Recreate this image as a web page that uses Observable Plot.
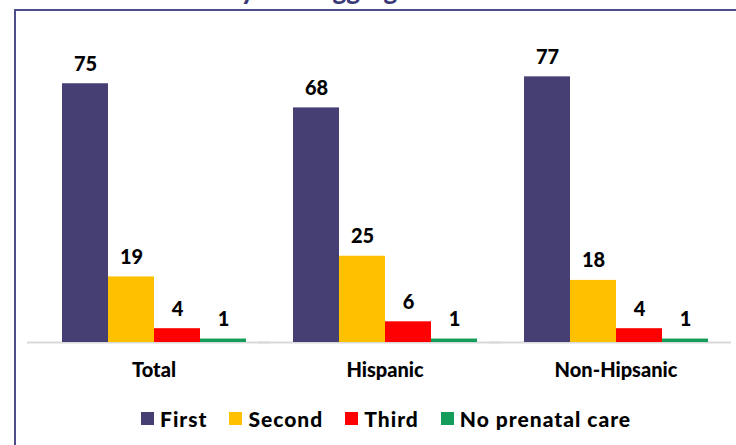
<!DOCTYPE html>
<html>
<head>
<meta charset="utf-8">
<script src="https://cdn.jsdelivr.net/npm/d3@7"></script>
<script src="https://cdn.jsdelivr.net/npm/@observablehq/plot@0.6"></script>
<style>
  html, body { margin: 0; padding: 0; background: #fff; }
  #wrap { position: relative; width: 736px; height: 445px; overflow: hidden; background: #fff; }
  #title { position: absolute; top: -23px; left: 46px; white-space: nowrap; font: 900 26px Lato, sans-serif; line-height: 26px; color: #3b3a78; }
  #frame { position: absolute; left: 14px; top: 9px; width: 800px; height: 500px; border-left: 2px solid #4f4d8c; border-top: 2px solid #4f4d8c; }
  #chart { position: absolute; left: 0; top: 0; }
  #legend { position: absolute; left: 141px; top: 406px; }
  .lg-swatches { font-family: Lato, sans-serif !important; font-size: 21px !important; font-weight: 900 !important; letter-spacing: 1px; color: #000 !important; display: flex; align-items: center; min-height: 23px; }
  .lg-swatch { margin-right: 22px !important; display: inline-flex; align-items: center; }
  .lg-swatch svg { margin-right: 6px !important; }
</style>
</head>
<body>
<div id="wrap">
  <div id="title">Trimester of Entry – Disaggregated</div>
  <div id="frame"></div>
  <div id="chart"></div>
  <div id="legend"></div>
</div>
<script>
const groups = ["Total", "Hispanic", "Non-Hipsanic"];
const trimesters = ["First", "Second", "Third", "No prenatal care"];
const firstValues = [75, 68, 77];
const secondValues = [19, 25, 18];
const thirdValues = [4, 6, 4];
const noCareValues = [1, 1, 1];
const colors = ["#453f74", "#ffc000", "#ff0000", "#149c5a"];

const series = [firstValues, secondValues, thirdValues, noCareValues];
const data = [];
groups.forEach((g, gi) => {
  trimesters.forEach((t, ti) => {
    data.push({group: g, trimester: t, value: series[ti][gi]});
  });
});

const chart = Plot.plot({
  width: 736,
  height: 400,
  marginLeft: 38,
  marginRight: 5,
  marginTop: 66,
  marginBottom: 58,
  style: {fontFamily: "Lato, sans-serif", fontSize: "20px", fontWeight: "900", background: "transparent", overflow: "visible", color: "#000"},
  fx: {domain: groups, paddingInner: 0.2, paddingOuter: 0.1, label: null, tickSize: 0, tickPadding: 20, axis: "bottom"},
  x: {domain: trimesters, axis: null, padding: 0},
  y: {domain: [0, 80], axis: null},
  color: {domain: trimesters, range: colors},
  marks: [
    Plot.ruleY([0], {stroke: "#d9d9d9", strokeWidth: 2, insetLeft: -34, insetRight: -23}),
    Plot.barY(data, {fx: "group", x: "trimester", y: "value", fill: "trimester"}),
    Plot.text(data, {fx: "group", x: "trimester", y: "value", text: d => String(d.value), dy: -13, lineAnchor: "bottom", fontWeight: "900", fontSize: 20, fill: "#000"})
  ]
});
document.getElementById("chart").appendChild(chart);

const legend = Plot.legend({color: {domain: trimesters, range: colors}, swatchSize: 13, className: "lg"});
document.getElementById("legend").appendChild(legend);
</script>
</body>
</html>
